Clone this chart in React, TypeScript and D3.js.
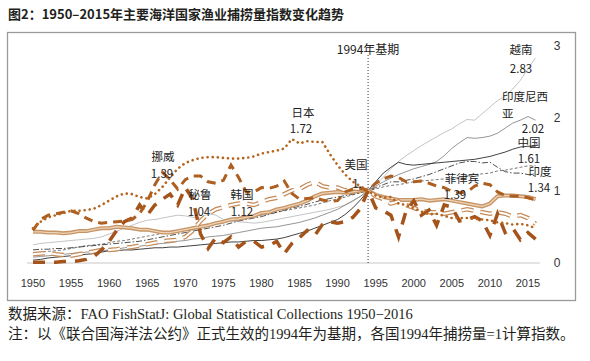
import React from "react";
import * as d3 from "d3";

const years: number[] = d3.range(1950, 2017);
const tickYears: number[] = [1950, 1955, 1960, 1965, 1970, 1975, 1980, 1985, 1990, 1995, 2000, 2005, 2010, 2015];
const yTicks: number[] = [0, 1, 2, 3];

const japan = [0.48,0.57,0.63,0.66,0.69,0.72,0.72,0.73,0.75,0.80,
0.86,0.92,0.96,0.95,0.91,0.89,0.95,1.05,1.18,1.30,
1.38,1.42,1.45,1.46,1.46,1.45,1.44,1.44,1.45,1.47,
1.51,1.53,1.55,1.58,1.71,1.65,1.68,1.67,1.67,1.50,
1.35,1.22,1.12,1.06,1.00,0.93,0.90,0.91,0.82,0.80,
0.76,0.71,0.67,0.68,0.65,0.62,0.62,0.62,0.61,0.60,
0.59,0.56,0.55,0.53,0.54,0.52,0.48];
const norway = [0.45,0.60,0.66,0.68,0.70,0.72,0.68,0.62,0.57,0.55,
0.56,0.57,0.58,0.60,0.68,0.85,1.08,1.25,1.15,1.02,
1.15,1.20,1.20,1.12,1.10,1.14,1.35,1.18,0.98,0.98,
1.04,1.03,1.06,1.13,0.96,0.88,0.89,0.90,0.87,0.85,
0.86,0.98,1.02,1.03,1.00,1.10,1.16,1.20,1.18,1.12,
1.12,1.13,1.10,1.06,1.04,0.99,0.97,0.98,1.06,1.10,
1.08,0.98,0.93,0.92,0.92,0.90,0.87];
const peru = [0.01,0.01,0.01,0.01,0.02,0.02,0.03,0.05,0.09,0.18,
0.30,0.45,0.57,0.62,0.80,0.66,0.80,0.88,0.95,0.80,
1.04,0.88,0.40,0.20,0.35,0.28,0.36,0.22,0.30,0.30,
0.22,0.24,0.30,0.13,0.27,0.35,0.45,0.38,0.53,0.57,
0.55,0.57,0.63,0.75,1.00,0.76,0.72,0.66,0.36,0.72,
0.86,0.66,0.73,0.52,0.80,0.77,0.58,0.60,0.64,0.58,
0.38,0.68,0.42,0.48,0.32,0.42,0.33];
const usa = [0.43,0.43,0.42,0.42,0.41,0.42,0.44,0.44,0.46,0.48,
0.48,0.50,0.49,0.48,0.46,0.46,0.44,0.42,0.42,0.44,
0.46,0.48,0.50,0.52,0.55,0.57,0.60,0.61,0.63,0.65,
0.69,0.70,0.74,0.76,0.79,0.82,0.86,0.92,0.96,0.97,
0.98,0.97,0.98,1.00,1.00,0.94,0.91,0.89,0.87,0.87,
0.87,0.88,0.86,0.87,0.88,0.86,0.84,0.82,0.80,0.78,
0.82,0.92,0.93,0.93,0.92,0.91,0.88];
const korea = [0.12,0.13,0.14,0.12,0.11,0.10,0.12,0.14,0.16,0.18,
0.18,0.19,0.21,0.22,0.24,0.26,0.28,0.30,0.31,0.32,
0.36,0.45,0.58,0.68,0.74,0.77,0.80,0.82,0.82,0.80,
0.84,0.88,0.90,0.95,1.00,1.02,1.08,1.12,1.06,1.04,
1.04,1.00,1.03,1.02,1.00,0.92,0.88,0.82,0.85,0.80,
0.76,0.72,0.70,0.70,0.68,0.70,0.72,0.74,0.72,0.70,
0.68,0.70,0.68,0.64,0.66,0.62,0.54];
const china = [0.04,0.05,0.07,0.08,0.09,0.10,0.11,0.12,0.13,0.15,
0.17,0.17,0.18,0.18,0.19,0.20,0.21,0.21,0.22,0.22,
0.23,0.24,0.25,0.26,0.27,0.28,0.29,0.29,0.30,0.31,
0.31,0.32,0.33,0.35,0.38,0.41,0.44,0.48,0.52,0.56,
0.60,0.67,0.76,0.87,1.00,1.12,1.24,1.32,1.39,1.36,
1.35,1.36,1.37,1.38,1.39,1.40,1.41,1.42,1.43,1.45,
1.47,1.50,1.53,1.57,1.60,1.61,1.61];
const indonesia = [0.08,0.09,0.10,0.11,0.12,0.13,0.14,0.15,0.16,0.17,
0.18,0.19,0.21,0.22,0.23,0.25,0.26,0.27,0.28,0.30,
0.31,0.33,0.34,0.36,0.37,0.38,0.40,0.42,0.44,0.46,
0.48,0.49,0.50,0.52,0.54,0.56,0.59,0.62,0.66,0.70,
0.74,0.80,0.86,0.92,1.00,1.06,1.12,1.17,1.22,1.26,
1.30,1.33,1.36,1.40,1.48,1.58,1.66,1.73,1.72,1.73,
1.75,1.79,1.86,1.93,1.97,2.02,1.97];
const india = [0.14,0.15,0.16,0.17,0.18,0.20,0.22,0.24,0.25,0.26,
0.28,0.30,0.31,0.33,0.35,0.37,0.39,0.41,0.43,0.45,
0.46,0.49,0.51,0.53,0.55,0.57,0.59,0.60,0.62,0.63,
0.66,0.68,0.70,0.72,0.74,0.76,0.78,0.80,0.83,0.86,
0.88,0.91,0.94,0.97,1.00,1.02,1.05,1.07,1.08,1.10,
1.12,1.13,1.14,1.15,1.16,1.16,1.18,1.20,1.22,1.23,
1.24,1.27,1.28,1.30,1.32,1.34,1.34];
const philippines = [0.18,0.19,0.19,0.20,0.20,0.21,0.22,0.23,0.24,0.25,
0.26,0.27,0.28,0.29,0.30,0.32,0.34,0.36,0.38,0.40,
0.42,0.44,0.46,0.48,0.50,0.52,0.55,0.58,0.60,0.62,
0.64,0.67,0.70,0.73,0.76,0.78,0.81,0.84,0.87,0.89,
0.91,0.93,0.95,0.97,1.00,1.04,1.08,1.12,1.12,1.14,
1.16,1.19,1.22,1.26,1.30,1.34,1.38,1.40,1.40,1.38,
1.39,1.32,1.26,1.24,1.24,1.22,1.20];
const vietnam = [0.25,0.27,0.28,0.29,0.30,0.31,0.32,0.33,0.34,0.36,
0.40,0.44,0.48,0.52,0.56,0.59,0.60,0.62,0.64,0.66,
0.65,0.63,0.62,0.68,0.66,0.60,0.58,0.57,0.56,0.55,
0.56,0.58,0.60,0.62,0.64,0.66,0.68,0.70,0.72,0.74,
0.77,0.80,0.85,0.92,1.00,1.08,1.18,1.30,1.40,1.48,
1.55,1.62,1.68,1.74,1.80,1.85,1.92,1.98,1.97,2.06,
2.15,2.24,2.30,2.40,2.52,2.68,2.83];

type Lbl = { t: string; x: number; y: number; a?: string };
const labels: Lbl[] = [
  { t: "越南", x: 521, y: 49 }, { t: "2.83", x: 521, y: 68 },
  { t: "印度尼西", x: 502, y: 96, a: "start" }, { t: "亚", x: 502, y: 113, a: "start" },
  { t: "2.02", x: 533, y: 127.5 }, { t: "中国", x: 529, y: 142 }, { t: "1.61", x: 529, y: 157.5 },
  { t: "印度", x: 540, y: 171 }, { t: "1.34", x: 539, y: 187 },
  { t: "菲律宾", x: 462, y: 178 }, { t: "1.39", x: 455, y: 194 },
  { t: "美国", x: 356, y: 164 }, { t: "1.", x: 357, y: 183 },
  { t: "日本", x: 303, y: 112 }, { t: "1.72", x: 301, y: 128 },
  { t: "挪威", x: 163, y: 156 }, { t: "1.39", x: 162, y: 173 },
  { t: "秘鲁", x: 200, y: 194 }, { t: "1.04", x: 199, y: 211 },
  { t: "韩国", x: 242, y: 194 }, { t: "1.12", x: 242, y: 211 },
];

const x = d3.scaleLinear().domain([1950, 2016]).range([33, 535.6]);
const y = d3.scaleLinear().domain([0, 3]).range([263, 45.5]);
const line = d3.line<number>().x((_, i) => x(years[i])).y((d) => y(d));

const CJK = "'Noto Sans CJK SC', 'Noto Sans', sans-serif";

export default function App() {
  const thin = [
    { d: vietnam, c: "#b4b4b4", w: 0.8, da: undefined },
    { d: indonesia, c: "#7a7a7a", w: 0.8, da: undefined },
    { d: india, c: "#555", w: 0.8, da: "3,2" },
    { d: philippines, c: "#222", w: 0.8, da: "6,2,1.5,2" },
    { d: china, c: "#111", w: 0.8, da: undefined },
  ];
  return (
    <svg width={590} height={361} style={{ position: "absolute", left: 0, top: 0, background: "#fff" }}>
      <rect x={0} y={0} width={590} height={361} fill="#fff" />
      <text x={8} y={19} fontFamily={CJK} fontWeight="bold" fontSize={13} fill="#231f20">
        图2：1950–2015年主要海洋国家渔业捕捞量指数变化趋势
      </text>
      <rect x={7.5} y={32.5} width={568} height={268} fill="none" stroke="#9a9a9a" strokeWidth={1.3} />
      <line x1={27} x2={540} y1={y(0)} y2={y(0)} stroke="#c8c8c8" strokeWidth={1} />
      {tickYears.map((t) => (
        <text key={t} x={x(t)} y={287} textAnchor="middle" fontFamily="'Liberation Sans', sans-serif" fontSize={11} fill="#333">
          {t}
        </text>
      ))}
      {yTicks.map((t) => (
        <text key={t} x={557} y={y(t) + 4} textAnchor="middle" fontFamily="'Liberation Sans', sans-serif" fontSize={12} fill="#333">
          {t}
        </text>
      ))}
      <line x1={x(1994)} x2={x(1994)} y1={55} y2={y(0)} stroke="#333" strokeWidth={1} strokeDasharray="1,2" />
      <text x={x(1994)} y={48} dominantBaseline="central" textAnchor="middle" fontFamily={CJK} fontSize={12} fill="#222">
        1994年基期
      </text>
      {thin.map((s, i) => (
        <path key={i} d={line(s.d) || ""} fill="none" stroke={s.c} strokeWidth={s.w} strokeDasharray={s.da} />
      ))}
      <path d={line(usa) || ""} fill="none" stroke="#c79466" strokeWidth={4} strokeLinejoin="round" />
      <path d={line(usa) || ""} fill="none" stroke="#ecd2b6" strokeWidth={1.3} strokeLinejoin="round" />
      <path d={line(korea) || ""} fill="none" stroke="#c48a58" strokeWidth={4.5} strokeDasharray="12,7" />
      <path d={line(korea) || ""} fill="none" stroke="#fff" strokeWidth={2} strokeDasharray="12,7" />
      <path d={line(peru) || ""} fill="none" stroke="#a4541b" strokeWidth={3.5} strokeDasharray="12,9" />
      <path d={line(norway) || ""} fill="none" stroke="#ad5f22" strokeWidth={3} strokeDasharray="9,6" />
      <path d={line(japan) || ""} fill="none" stroke="#b5651d" strokeWidth={2.6} strokeDasharray="0.1,5" strokeLinecap="round" />
      {labels.map((l, i) => (
        <text key={i} x={l.x} y={l.y} dominantBaseline="central" textAnchor={l.a || "middle"} fontFamily={CJK} fontSize={11.5} fill="#222">
          {l.t}
        </text>
      ))}
      <text x={8} y={319} fontFamily={"'Liberation Serif', 'Noto Sans CJK SC', serif"} fontSize={14.5} fill="#231f20">
        数据来源：FAO FishStatJ: Global Statistical Collections 1950−2016
      </text>
      <text x={8} y={339} fontFamily={"'Liberation Serif', 'Noto Sans CJK SC', serif"} fontSize={14.5} fill="#231f20">
        注：以《联合国海洋法公约》正式生效的1994年为基期，各国1994年捕捞量=1计算指数。
      </text>
    </svg>
  );
}
